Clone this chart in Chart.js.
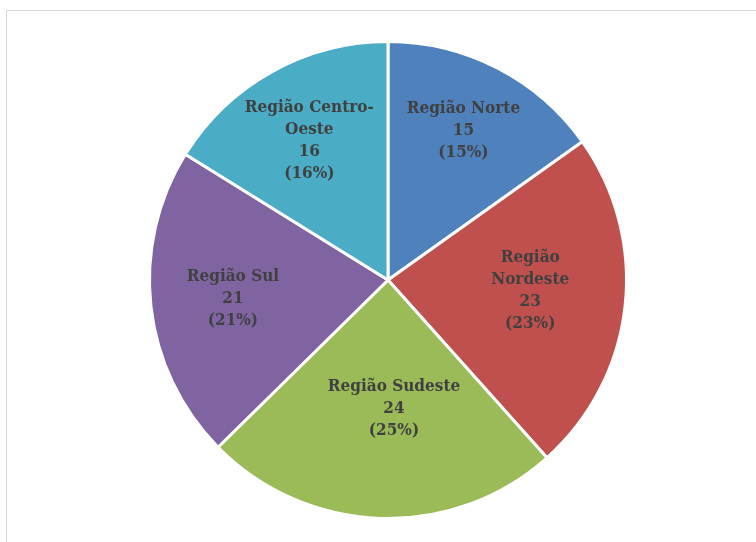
<!DOCTYPE html>
<html>
<head>
<meta charset="utf-8">
<script src="https://cdn.jsdelivr.net/npm/chart.js@4"></script>
<style>
  html, body { margin: 0; padding: 0; background: #fff; overflow: hidden; }
  #wrap { position: relative; width: 756px; height: 542px; }
  #frame { position: absolute; left: 6px; top: 10px; width: 800px; height: 600px; border: 1px solid #d9d9d9; box-sizing: border-box; }
  canvas { position: absolute; left: 0; top: 0; }
</style>
</head>
<body>
<div id="wrap">
  <div id="frame"></div>
  <canvas id="chart" width="756" height="542"></canvas>
</div>
<script>
// Regiões e valores
const regions = ['Região Norte', 'Região Nordeste', 'Região Sudeste', 'Região Sul', 'Região Centro-Oeste'];
const values = [15, 23, 24, 21, 16];
const percents = ['15%', '23%', '25%', '21%', '16%'];
const labelLines = [
  ['Região Norte'],
  ['Região', 'Nordeste'],
  ['Região Sudeste'],
  ['Região Sul'],
  ['Região Centro-', 'Oeste'],
];
const colors = ['#4F81BD', '#C0504D', '#9BBB59', '#8064A2', '#4BACC6'];

// draws the data labels inside each slice
const sliceLabels = {
  id: 'sliceLabels',
  afterDatasetsDraw(chart, args, opts) {
    const ctx = chart.ctx;
    const meta = chart.getDatasetMeta(0);
    ctx.save();
    ctx.font = opts.font;
    ctx.fillStyle = opts.color;
    ctx.textAlign = 'center';
    ctx.textBaseline = 'middle';
    meta.data.forEach((arc, i) => {
      const p = arc.getProps(['x', 'y', 'startAngle', 'endAngle', 'outerRadius'], true);
      const mid = (p.startAngle + p.endAngle) / 2;
      const r = p.outerRadius * opts.dist[i];
      const cx = p.x + Math.cos(mid) * r + opts.dx[i];
      const cy = p.y + Math.sin(mid) * r + opts.dy[i];
      const lines = labelLines[i].concat([String(values[i]), '(' + percents[i] + ')']);
      const lh = opts.lineHeight;
      const top = cy - (lines.length - 1) * lh / 2;
      lines.forEach((t, k) => ctx.fillText(t, cx, top + k * lh));
    });
    ctx.restore();
  }
};

new Chart(document.getElementById('chart').getContext('2d'), {
  type: 'pie',
  data: {
    labels: regions,
    datasets: [{
      data: values,
      backgroundColor: colors,
      borderColor: '#ffffff',
      borderWidth: 3,
    }],
  },
  options: {
    responsive: false,
    animation: false,
    layout: { padding: { left: 148, right: 128, top: 40, bottom: 22 } },
    plugins: {
      legend: { display: false },
      tooltip: { enabled: false },
      sliceLabels: {
        font: 'bold 17px "DejaVu Serif Condensed", "DejaVu Serif"',
        color: '#404040',
        lineHeight: 22,
        dist: [0.69, 0.6, 0.53, 0.65, 0.67],
        dx: [0, 0, 10, -1, -1],
        dy: [-3, -5, 2, 1, 0],
      },
    },
  },
  plugins: [sliceLabels],
});
</script>
</body>
</html>
